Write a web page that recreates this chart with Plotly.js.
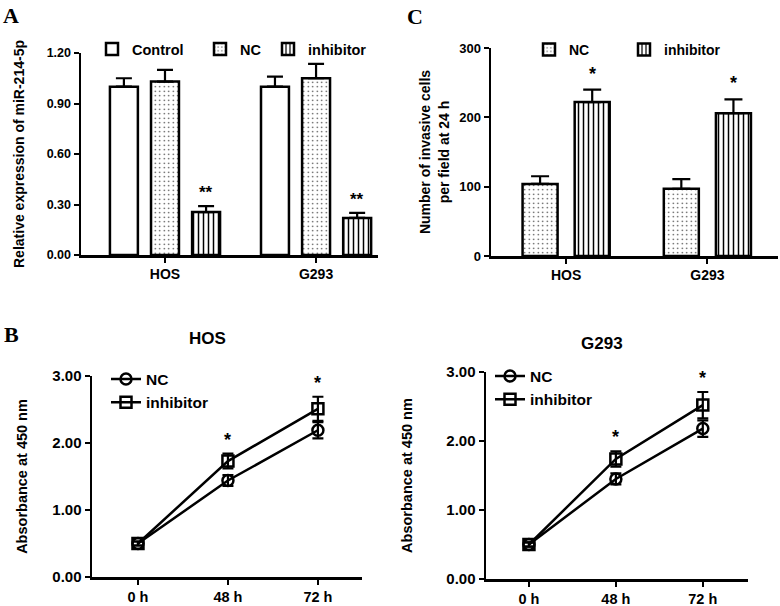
<!DOCTYPE html>
<html><head><meta charset="utf-8">
<script src="https://cdn.plot.ly/plotly-3.0.1.min.js"></script>
<style>html,body{margin:0;padding:0;background:#fff}</style>
</head><body><div id="chart" style="width:780px;height:606px"></div>
<script>
// Panel A: relative expression of miR-214-5p
const cellLinesA = ['HOS', 'G293'];
const controlA = [1.00, 1.00];
const controlErrA = [0.05, 0.06];
const ncA = [1.03, 1.05];
const ncErrA = [0.07, 0.085];
const inhibitorA = [0.255, 0.22];
const inhibitorErrA = [0.035, 0.03];
const starsA = ['**', '**'];
const yTicksA = [0, 0.3, 0.6, 0.9, 1.2];

// Panel C: invasive cells
const cellLinesC = ['HOS', 'G293'];
const ncC = [104, 97];
const ncErrC = [11, 14];
const inhibitorC = [222, 206];
const inhibitorErrC = [18, 20];
const starsC = ['*', '*'];
const yTicksC = [0, 100, 200, 300];

// Panel B: absorbance over time
const timeLabels = ['0 h', '48 h', '72 h'];
const hosNC = [0.50, 1.44, 2.19];
const hosNCErr = [0.03, 0.08, 0.12];
const hosInh = [0.50, 1.73, 2.51];
const hosInhErr = [0.03, 0.11, 0.18];
const g293NC = [0.50, 1.45, 2.18];
const g293NCErr = [0.03, 0.08, 0.12];
const g293Inh = [0.50, 1.74, 2.52];
const g293InhErr = [0.03, 0.11, 0.19];
const starsB = ['', '*', '*'];
const yTicksB = [0, 1, 2, 3];

const BLACK = '#000';
const idx = arr => arr.map((_, i) => i);
const zeros = arr => arr.map(() => 0);

const barLine = {color: BLACK, width: 2.5};
const errUp = (errs, w) => ({type: 'data', symmetric: false, array: errs, arrayminus: zeros(errs), color: BLACK, thickness: 2.2, width: w, visible: true});
const dotPat = {shape: '.', size: 4.5, solidity: 0.08, fgcolor: '#222', bgcolor: '#fff', fillmode: 'replace'};
const linePat = {shape: '|', size: 5, solidity: 0.3, fgcolor: BLACK, bgcolor: '#fff', fillmode: 'replace'};

// Bar geometry (positions within category)
const wA = 0.185, slotA = 0.272;
const wC = 0.248, slotC = 0.369;

const traces = [
  {type: 'bar', name: 'Control', x: idx(cellLinesA), y: controlA, width: wA, offset: -slotA - wA / 2,
   marker: {color: '#fff', line: barLine}, error_y: errUp(controlErrA, 8), xaxis: 'x', yaxis: 'y', legend: 'legend'},
  {type: 'bar', name: 'NC', x: idx(cellLinesA), y: ncA, width: wA, offset: -wA / 2,
   marker: {color: '#fff', line: barLine, pattern: dotPat}, error_y: errUp(ncErrA, 8), xaxis: 'x', yaxis: 'y', legend: 'legend2'},
  {type: 'bar', name: 'inhibitor', x: idx(cellLinesA), y: inhibitorA, width: wA, offset: slotA - wA / 2,
   marker: {color: '#fff', line: barLine, pattern: linePat}, error_y: errUp(inhibitorErrA, 8), xaxis: 'x', yaxis: 'y', legend: 'legend3'},

  {type: 'bar', name: 'NC', x: idx(cellLinesC), y: ncC, width: wC, offset: -slotC / 2 - wC / 2,
   marker: {color: '#fff', line: barLine, pattern: dotPat}, error_y: errUp(ncErrC, 9), xaxis: 'x2', yaxis: 'y2', legend: 'legend4'},
  {type: 'bar', name: 'inhibitor', x: idx(cellLinesC), y: inhibitorC, width: wC, offset: slotC / 2 - wC / 2,
   marker: {color: '#fff', line: barLine, pattern: linePat}, error_y: errUp(inhibitorErrC, 9), xaxis: 'x2', yaxis: 'y2', legend: 'legend5'}
];

function lineTrace(name, y, err, symbol, xa, ya, lg) {
  return {type: 'scatter', mode: 'lines+markers', name: name, x: idx(timeLabels), y: y,
    line: {color: BLACK, width: 2.5},
    marker: {symbol: symbol, size: 11, color: BLACK, line: {color: BLACK, width: 2.5}},
    error_y: {type: 'data', array: err, color: BLACK, thickness: 2.2, width: 5.5},
    xaxis: xa, yaxis: ya, legend: lg};
}
traces.push(lineTrace('NC', hosNC, hosNCErr, 'circle-open', 'x3', 'y3', 'legend6'));
traces.push(lineTrace('inhibitor', hosInh, hosInhErr, 'square-open', 'x3', 'y3', 'legend6'));
traces.push(lineTrace('NC', g293NC, g293NCErr, 'circle-open', 'x4', 'y4', 'legend7'));
traces.push(lineTrace('inhibitor', g293Inh, g293InhErr, 'square-open', 'x4', 'y4', 'legend7'));

const FONT = 'Liberation Sans, Arial, sans-serif';
function xAx(domain, range, labels, anchor, fs) {
  return {domain: domain, range: range, anchor: anchor, tickvals: idx(labels), ticktext: labels,
    showline: true, linewidth: 2.5, linecolor: BLACK, ticks: 'outside', ticklen: 5, tickwidth: 2, tickcolor: BLACK,
    showgrid: false, zeroline: false, fixedrange: true,
    tickfont: {family: FONT, size: fs, color: BLACK, weight: 'bold'}};
}
function yAx(domain, range, tickvals, fmt, anchor, fs, title, tsize, standoff) {
  return {domain: domain, range: range, anchor: anchor, tickvals: tickvals, tickformat: fmt,
    showline: true, linewidth: 2.5, linecolor: BLACK, ticks: 'outside', ticklen: 5, tickwidth: 2, tickcolor: BLACK,
    showgrid: false, zeroline: false, fixedrange: true,
    tickfont: {family: FONT, size: fs, color: BLACK, weight: 'bold'},
    title: {text: title, standoff: standoff, font: {family: FONT, size: tsize, color: BLACK, weight: 'bold'}}};
}

const H = 606, W = 780;
const px = v => v / W, py = v => (H - v) / H;

const annotations = [];
function addText(text, x, y, size, family, xanchor) {
  annotations.push({text: text, xref: 'paper', yref: 'paper', x: x, y: y, xanchor: xanchor || 'center', yanchor: 'middle',
    showarrow: false, font: {family: family || FONT, size: size, color: BLACK, weight: 'bold'}});
}
const SERIF = 'Liberation Serif, Times New Roman, serif';
addText('A', px(1), py(16), 22, SERIF, 'left');
addText('C', px(405), py(17), 22, SERIF, 'left');
addText('B', px(2), py(334), 22, SERIF, 'left');
addText('HOS', px(207), py(338), 17);
addText('G293', px(602), py(343), 17);

function addStars(stars, xs, ys, errs, xa, ya, size, shift) {
  stars.forEach((s, i) => {
    if (!s) return;
    annotations.push({text: s, x: xs[i], y: ys[i] + errs[i], xref: xa, yref: ya, xanchor: 'center', yanchor: 'bottom',
      showarrow: false, yshift: shift, font: {family: FONT, size: size, color: BLACK, weight: 'bold'}});
  });
}
addStars(starsA, idx(cellLinesA).map(i => i + slotA), inhibitorA, inhibitorErrA, 'x', 'y', 17, 2);
addStars(starsC, idx(cellLinesC).map(i => i + slotC / 2), inhibitorC, inhibitorErrC, 'x2', 'y2', 18, 4);
addStars(starsB, idx(timeLabels), hosInh, hosInhErr, 'x3', 'y3', 18, 2);
addStars(starsB, idx(timeLabels), g293Inh, g293InhErr, 'x4', 'y4', 18, 2);

function lg(x, y, orient, size) {
  return {bgcolor: 'rgba(0,0,0,0)', borderwidth: 0, xref: 'paper', yref: 'paper', xanchor: 'left', yanchor: 'middle',
    orientation: orient, x: px(x), y: py(y), font: {family: FONT, size: size, color: BLACK, weight: 'bold'}};
}
const layout = {
  width: W, height: H, margin: {l: 0, r: 0, t: 0, b: 0},
  paper_bgcolor: '#fff', plot_bgcolor: 'rgba(0,0,0,0)',
  font: {family: FONT, color: BLACK, weight: 'bold'},
  barmode: 'overlay', showlegend: true,
  xaxis: xAx([px(81), px(378)], [-0.556, 1.41], cellLinesA, 'y', 14),
  yaxis: yAx([py(255), py(53)], [0, 1.2], yTicksA, '.2f', 'x', 12.5, 'Relative expression of miR-214-5p', 14, 19),
  xaxis2: xAx([px(491), px(778)], [-0.532, 1.50], cellLinesC, 'y2', 14),
  yaxis2: yAx([py(256), py(48)], [0, 300], yTicksC, 'd', 'x2', 13, 'Number of invasive cells<br>per field at 24 h', 14, 7),
  xaxis3: xAx([px(92), px(362)], [-0.511, 2.49], timeLabels, 'y3', 14.5),
  yaxis3: yAx([py(577), py(376)], [0, 3], yTicksB, '.2f', 'x3', 15, 'Absorbance at 450 nm', 14.5, 21),
  xaxis4: xAx([px(486), px(748)], [-0.494, 2.52], timeLabels, 'y4', 14.5),
  yaxis4: yAx([py(579), py(372)], [0, 3], yTicksB, '.2f', 'x4', 15, 'Absorbance at 450 nm', 14.5, 30),
  legend: lg(92, 49, 'h', 14.5),
  legend2: lg(200, 49, 'h', 14.5),
  legend3: lg(268, 49, 'h', 14.5),
  legend4: lg(529, 50, 'h', 14),
  legend5: lg(624, 50, 'h', 14),
  legend6: lg(106, 391, 'v', 15.5),
  legend7: lg(490, 388, 'v', 15.5),
  annotations: annotations
};

Plotly.newPlot('chart', traces, layout, {staticPlot: true, displayModeBar: false});
</script>
</body></html>
